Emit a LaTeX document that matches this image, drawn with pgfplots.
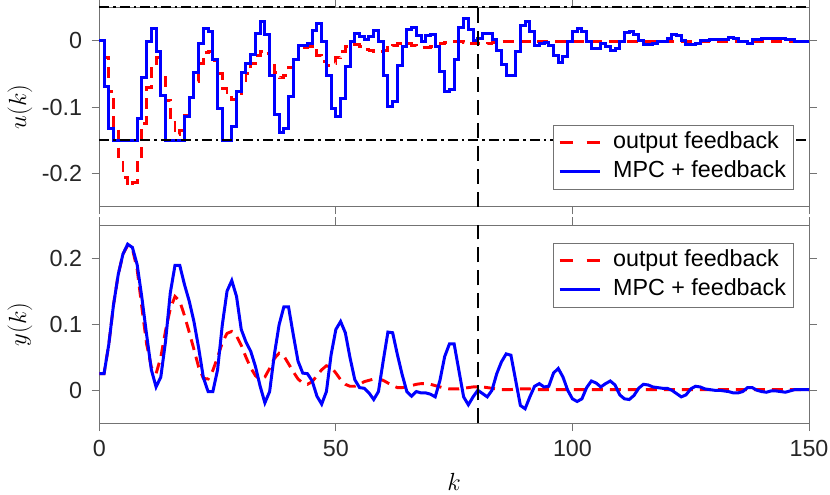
\documentclass[border=0pt]{standalone}
\usepackage{fontspec}
\setmainfont{Liberation Sans}
\usepackage{pgfplots}
\pgfplotsset{compat=1.18}
\usepackage{pgfplotstable}

\pgfplotstableread{
k u
0 0
1 -0.069
2 -0.133
3 -0.15
4 -0.15
5 -0.15
6 -0.15
7 -0.15
8 -0.118
9 -0.055
10 -0.002
11 0.018
12 -0.017
13 -0.082
14 -0.15
15 -0.15
16 -0.15
17 -0.15
18 -0.115
19 -0.086
20 -0.048
21 -0.004
22 0.018
23 0.013
24 -0.029
25 -0.102
26 -0.15
27 -0.15
28 -0.130
29 -0.077
30 -0.048
31 -0.035
32 -0.021
33 0.010
34 0.029
35 0.009
36 -0.053
37 -0.111
38 -0.138
39 -0.132
40 -0.084
41 -0.029
42 -0.007
43 -0.007
44 -0.005
45 0.015
46 0.026
47 -0.001
48 -0.053
49 -0.102
50 -0.115
51 -0.087
52 -0.039
53 -0.001
54 0.010
55 0.006
56 0.002
57 0.006
58 0.015
59 -0.001
60 -0.053
61 -0.100
62 -0.092
63 -0.037
64 -0.009
65 0.017
66 0.019
67 0.007
68 -0.001
69 0.008
70 0.009
71 -0.009
72 -0.047
73 -0.077
74 -0.073
75 -0.029
76 0.019
77 0.033
78 0.017
79 0.000
80 0.003
81 0.010
82 0.010
83 0.001
84 -0.015
85 -0.036
86 -0.053
87 -0.053
88 -0.017
89 0.023
90 0.029
91 0.014
92 -0.007
93 -0.005
94 -0.003
95 -0.007
96 -0.022
97 -0.033
98 -0.024
99 -0.001
100 0.013
101 0.018
102 0.013
103 -0.001
104 -0.012
105 -0.012
106 -0.005
107 -0.009
108 -0.015
109 -0.012
110 -0.002
111 0.012
112 0.013
113 0.009
114 0.000
115 -0.006
116 -0.006
117 -0.004
118 -0.002
119 -0.002
120 0.003
121 0.009
122 0.007
123 0.000
124 -0.006
125 -0.006
126 -0.004
127 0.000
128 0.000
129 0.001
130 0.002
131 0.002
132 0.002
133 0.004
134 0.003
135 -0.002
136 -0.002
137 -0.004
138 0.001
139 0.001
140 0.003
141 0.003
142 0.003
143 0.003
144 0.003
145 0.001
146 0.001
147 -0.001
148 -0.001
149 -0.001
150 -0.001
}\ublue

\pgfplotstableread{
k u
0 0
1 -0.025
2 -0.077
3 -0.129
4 -0.175
5 -0.206
6 -0.219
7 -0.214
8 -0.183
9 -0.125
10 -0.070
11 -0.035
12 -0.025
13 -0.050
14 -0.090
15 -0.123
16 -0.142
17 -0.135
18 -0.113
19 -0.088
20 -0.062
21 -0.035
22 -0.018
23 -0.017
24 -0.030
25 -0.050
26 -0.072
27 -0.086
28 -0.089
29 -0.082
30 -0.068
31 -0.050
32 -0.034
33 -0.022
34 -0.016
35 -0.020
36 -0.033
37 -0.048
38 -0.056
39 -0.052
40 -0.040
41 -0.028
42 -0.017
43 -0.011
44 -0.009
45 -0.013
46 -0.022
47 -0.031
48 -0.037
49 -0.035
50 -0.026
51 -0.016
52 -0.009
53 -0.006
54 -0.006
55 -0.009
56 -0.013
57 -0.015
58 -0.017
59 -0.017
60 -0.015
61 -0.011
62 -0.007
63 -0.004
64 -0.004
65 -0.005
66 -0.007
67 -0.009
68 -0.010
69 -0.010
70 -0.009
71 -0.007
72 -0.005
73 -0.003
74 -0.002
75 -0.002
76 -0.002
77 -0.003
78 -0.004
79 -0.005
80 -0.005
81 -0.005
82 -0.004
83 -0.003
84 -0.002
85 -0.001
86 -0.001
87 -0.001
88 -0.002
89 -0.002
90 -0.002
91 -0.002
92 -0.001
100 -0.001
110 -0.001
120 -0.001
130 -0.001
140 -0.001
150 -0.001
}\ured

\pgfplotstableread{
k y
0 0.025
1 0.025
2 0.069
3 0.129
4 0.175
5 0.206
6 0.221
7 0.216
8 0.190
9 0.140
10 0.084
11 0.031
12 0.005
13 0.020
14 0.074
15 0.147
16 0.189
17 0.189
18 0.160
19 0.135
20 0.104
21 0.064
22 0.019
23 -0.002
24 -0.002
25 0.031
26 0.099
27 0.150
28 0.166
29 0.142
30 0.092
31 0.073
32 0.059
33 0.036
34 0.006
35 -0.019
36 -0.002
37 0.054
38 0.099
39 0.126
40 0.126
41 0.084
42 0.044
43 0.026
44 0.025
45 0.014
46 -0.009
47 -0.021
48 -0.002
49 0.054
50 0.092
51 0.104
52 0.087
53 0.049
54 0.016
55 0.004
56 0.003
57 -0.004
58 -0.014
59 -0.002
60 0.044
61 0.088
62 0.087
63 0.054
64 0.024
65 -0.002
66 -0.009
67 -0.002
68 -0.004
69 -0.004
70 -0.006
71 -0.010
72 0.015
73 0.051
74 0.070
75 0.070
76 0.030
77 -0.010
78 -0.022
79 -0.010
80 0.000
81 -0.005
82 -0.010
83 0.000
84 0.025
85 0.043
86 0.055
87 0.053
88 0.015
89 -0.023
90 -0.028
91 -0.010
92 0.006
93 0.010
94 0.005
95 0.006
96 0.026
97 0.033
98 0.020
99 0.000
100 -0.013
101 -0.017
102 -0.013
103 0.004
104 0.014
105 0.011
106 0.005
107 0.010
108 0.014
109 0.008
110 -0.007
111 -0.013
112 -0.014
113 -0.008
114 0.003
115 0.009
116 0.008
117 0.005
118 0.004
119 0.003
120 0.003
121 0.000
122 -0.005
123 -0.010
124 -0.007
125 0.002
126 0.006
127 0.005
128 0.002
129 0.001
130 0.000
131 0.000
132 -0.001
133 -0.002
134 -0.004
135 -0.004
136 -0.002
137 0.004
138 0.004
139 0.000
140 -0.002
141 -0.003
142 -0.001
143 -0.001
144 -0.002
145 -0.003
146 -0.001
147 0.001
148 0.001
149 0.001
150 0.001
}\yblue

\pgfplotstableread{
k y
0 0.025
1 0.025
2 0.069
3 0.129
4 0.175
5 0.206
6 0.219
7 0.214
8 0.183
9 0.125
10 0.070
11 0.035
12 0.025
13 0.050
14 0.090
15 0.123
16 0.142
17 0.135
18 0.113
19 0.088
20 0.062
21 0.035
22 0.018
23 0.017
24 0.030
25 0.050
26 0.072
27 0.086
28 0.089
29 0.082
30 0.068
31 0.050
32 0.034
33 0.022
34 0.016
35 0.020
36 0.033
37 0.048
38 0.056
39 0.052
40 0.040
41 0.028
42 0.017
43 0.011
44 0.009
45 0.013
46 0.022
47 0.031
48 0.037
49 0.035
50 0.026
51 0.016
52 0.009
53 0.006
54 0.006
55 0.009
56 0.013
57 0.015
58 0.017
59 0.017
60 0.015
61 0.011
62 0.007
63 0.004
64 0.004
65 0.005
66 0.007
67 0.009
68 0.010
69 0.010
70 0.009
71 0.007
72 0.005
73 0.003
74 0.002
75 0.002
76 0.002
77 0.003
78 0.004
79 0.005
80 0.005
81 0.005
82 0.004
83 0.003
84 0.002
85 0.001
86 0.001
87 0.001
88 0.002
89 0.002
90 0.002
91 0.002
92 0.001
100 0.001
110 0.001
120 0.001
130 0.001
140 0.001
150 0.001
}\yred

\tikzset{
  redl/.style={red, line width=2.9bp, dash pattern=on 11bp off 7bp},
  bluel/.style={blue, line width=3bp},
  dashdot/.style={black, line width=2.4bp, dash pattern=on 10bp off 4bp on 2.5bp off 4bp},
  vdash/.style={black, line width=2.2bp, dash pattern=on 15bp off 8bp},
}
\pgfplotsset{
  myax/.style={
    scale only axis, width=709.7bp,
    xmin=0, xmax=150, xtick={0,50,100,150},
    tick align=outside, tick pos=both, major tick length=7.7bp,
    axis line style={draw=black!55, line width=0.8bp},
    tick style={draw=black!55, line width=0.8bp},
    tick label style={font=\fontsize{23.3bp}{28bp}\selectfont, text=black!85},
    xticklabel style={yshift=-6bp},
    yticklabel style={xshift=-6bp},
    ylabel style={at={(axis description cs:-0.112,0.5)}, anchor=center, font=\fontsize{25bp}{30bp}\selectfont},
    clip=false,
    legend cell align=left,
    legend style={draw=black!55, line width=0.8bp, fill=white,
      font=\fontsize{23.3bp}{28bp}\selectfont,
      inner xsep=5bp, inner ysep=4.8bp, row sep=2.4bp,
      nodes={inner xsep=2bp, inner ysep=2bp, text height=17bp, text depth=5bp},
      /tikz/every odd column/.append style={column sep=10bp}},
    legend image code/.code={\draw[##1] (0bp,0bp) -- (40bp,0bp);},
  },
}

\begin{document}
\begin{tikzpicture}
\useasboundingbox (0,0) rectangle (830bp,495bp);
\begin{axis}[myax, at={(99.3bp,288.3bp)}, anchor=south west, height=199.4bp,
  ymin=-0.25, ymax=0.05, ytick={-0.2,-0.1,0}, yticklabels={-0.2,-0.1,0},
  xticklabels={}, ylabel={$u(k)$},
  legend style={at={(0.978,0.087)}, anchor=south east}]
  \addplot[redl, const plot, legend image post style={dash pattern=on 13bp off 14bp}] table[x=k, y=u] {\ured};
  \addlegendentry{output feedback}
  \addplot[bluel, const plot] table[x=k, y=u] {\ublue};
  \addlegendentry{MPC + feedback}
  \draw[dashdot] (axis cs:0,0.05) -- (axis cs:150,0.05);
  \draw[dashdot] (axis cs:0,-0.15) -- (axis cs:150,-0.15);
  \draw[vdash] (axis cs:80,-0.25) -- (axis cs:80,0.05);
\end{axis}
\begin{axis}[myax, at={(99.3bp,71.7bp)}, anchor=south west, height=198.3bp,
  ymin=-0.05, ymax=0.25, ytick={0,0.1,0.2}, yticklabels={0,0.1,0.2},
  xticklabels={0,50,100,150}, ylabel={$y(k)$}, xlabel={$k$},
  xlabel style={at={(axis description cs:0.5,-0.296)}, anchor=center, font=\fontsize{25bp}{30bp}\selectfont},
  legend style={at={(0.978,0.911)}, anchor=north east}]
  \addplot[redl, legend image post style={dash pattern=on 13bp off 14bp}] table[x=k, y=y] {\yred};
  \addlegendentry{output feedback}
  \addplot[bluel] table[x=k, y=y] {\yblue};
  \addlegendentry{MPC + feedback}
  \draw[vdash] (axis cs:80,-0.05) -- (axis cs:80,0.25);
\end{axis}
\end{tikzpicture}
\end{document}
